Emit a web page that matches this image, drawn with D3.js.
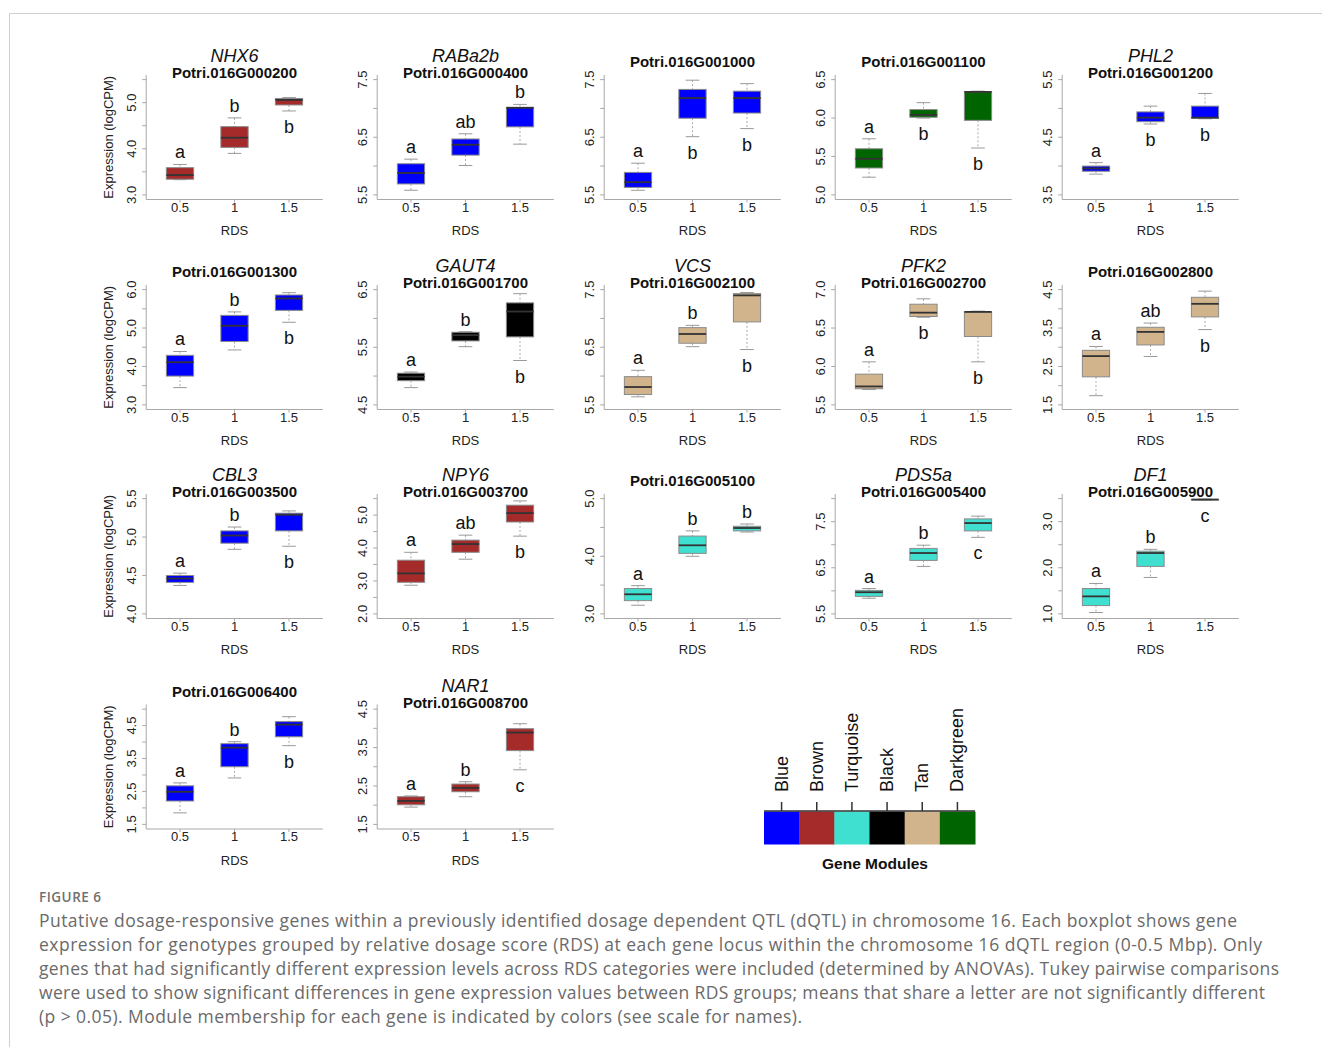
<!DOCTYPE html>
<html><head><meta charset="utf-8">
<script src="https://cdn.jsdelivr.net/npm/d3@7"></script>
<style>
html,body{margin:0;padding:0;background:#fff;}
svg{display:block;}
</style></head>
<body>
<svg id="chart" width="1322" height="1047"></svg>
<script>
// ---------------- DATA ----------------
const geneNames = ["NHX6","RABa2b","","","PHL2","","GAUT4","VCS","PFK2","","CBL3","NPY6","","PDS5a","DF1","","NAR1"];
const geneIds = ["Potri.016G000200","Potri.016G000400","Potri.016G001000","Potri.016G001100","Potri.016G001200",
  "Potri.016G001300","Potri.016G001700","Potri.016G002100","Potri.016G002700","Potri.016G002800",
  "Potri.016G003500","Potri.016G003700","Potri.016G005100","Potri.016G005400","Potri.016G005900",
  "Potri.016G006400","Potri.016G008700"];
const geneModule = ["Brown","Blue","Blue","Darkgreen","Blue","Blue","Black","Tan","Tan","Tan",
  "Blue","Brown","Turquoise","Turquoise","Turquoise","Blue","Brown"];
const yLimLow  = [3.0,5.5,5.5,5.0,3.5, 3.0,4.5,5.5,5.5,1.5, 4.0,2.0,3.0,5.5,1.0, 1.5,1.5];
const yLimHigh = [5.5,7.5,7.5,6.5,5.5, 6.0,6.5,7.5,7.0,4.5, 5.5,5.5,5.0,8.0,3.5, 5.0,4.5];
const rdsLabels = ["0.5","1","1.5"];
const lowerWhisker = [[3.33,3.90,4.82],[5.58,6.01,6.38],[5.58,6.51,6.65],[5.23,6.00,5.61],[3.86,4.73,4.82],
  [3.45,4.43,5.15],[4.80,5.51,5.27],[5.64,6.51,6.46],[5.70,6.64,6.06],[1.74,2.76,3.46],
  [4.37,4.84,4.88],[2.87,3.66,4.36],[3.15,4.00,4.42],[5.84,6.53,7.16],[1.03,1.79,3.47],
  [1.85,2.91,3.89],[1.95,2.22,2.92]];
const lowerQuartile = [[3.34,4.03,4.95],[5.69,6.19,6.68],[5.63,6.83,6.92],[5.35,6.01,5.97],[3.91,4.77,4.83],
  [3.75,4.65,5.46],[4.92,5.61,5.68],[5.68,6.57,6.94],[5.71,6.65,6.39],[2.23,3.06,3.79],
  [4.41,4.92,5.08],[2.96,3.87,4.79],[3.23,4.05,4.44],[5.88,6.66,7.30],[1.18,2.03,3.47],
  [2.21,3.25,4.16],[2.01,2.35,3.42]];
const medians = [[3.43,4.24,5.06],[5.88,6.37,7.01],[5.72,7.18,7.18],[5.47,6.04,6.34],[3.96,4.84,4.84],
  [4.11,5.06,5.77],[4.99,5.71,6.12],[5.81,6.73,7.40],[5.74,6.70,6.71],[2.77,3.40,4.13],
  [4.46,5.02,5.29],[3.23,4.12,5.06],[3.34,4.19,4.49],[5.97,6.82,7.47],[1.38,2.32,3.48],
  [2.49,3.83,4.53],[2.11,2.45,3.89]];
const upperQuartile = [[3.59,4.48,5.09],[6.04,6.47,7.02],[5.89,7.33,7.30],[5.60,6.11,6.34],[4.00,4.94,5.04],
  [4.29,5.33,5.86],[5.05,5.76,6.27],[5.99,6.84,7.43],[5.90,6.81,6.71],[2.92,3.52,4.30],
  [4.50,5.08,5.31],[3.63,4.24,5.30],[3.44,4.35,4.52],[6.01,6.92,7.56],[1.55,2.36,3.48],
  [2.67,3.95,4.62],[2.22,2.55,3.99]];
const upperWhisker = [[3.66,4.67,5.11],[6.12,6.56,7.07],[6.05,7.49,7.43],[5.73,6.20,6.35],[4.06,5.04,5.26],
  [4.39,5.42,5.92],[5.07,5.77,6.43],[6.10,6.88,7.45],[6.06,6.88,6.72],[3.02,3.63,4.46],
  [4.53,5.13,5.34],[3.87,4.39,5.43],[3.49,4.44,4.56],[6.05,6.99,7.62],[1.66,2.40,3.49],
  [2.76,4.01,4.77],[2.24,2.61,4.12]];
const groupLetters = [["a","b","b"],["a","ab","b"],["a","b","b"],["a","b","b"],["a","b","b"],
  ["a","b","b"],["a","b","b"],["a","b","b"],["a","b","b"],["a","ab","b"],
  ["a","b","b"],["a","ab","b"],["a","b","b"],["a","b","c"],["a","b","c"],
  ["a","b","b"],["a","b","c"]];
const letterSide = [["above","above","below"],["above","above","above"],["above","below","below"],["above","below","below"],["above","below","below"],
  ["above","above","below"],["above","above","below"],["above","above","below"],["above","below","below"],["above","above","below"],
  ["above","above","below"],["above","above","below"],["above","above","above"],["above","above","below"],["above","above","below"],
  ["above","above","below"],["above","above","below"]];
const moduleNames = ["Blue","Brown","Turquoise","Black","Tan","Darkgreen"];
const moduleColors = ["#0000ff","#a52a2a","#40e0d0","#000000","#d2b48c","#006400"];
const captionHeading = "FIGURE 6";
const captionLines = [
  "Putative dosage-responsive genes within a previously identified dosage dependent QTL (dQTL) in chromosome 16. Each boxplot shows gene",
  "expression for genotypes grouped by relative dosage score (RDS) at each gene locus within the chromosome 16 dQTL region (0-0.5 Mbp). Only",
  "genes that had significantly different expression levels across RDS categories were included (determined by ANOVAs). Tukey pairwise comparisons",
  "were used to show significant differences in gene expression values between RDS groups; means that share a letter are not significantly different",
  "(p > 0.05). Module membership for each gene is indicated by colors (see scale for names)."
];

// ---------------- LAYOUT ----------------
const svg = d3.select("#chart");
const FONT = "'Liberation Sans', Arial, sans-serif";
const colLeft = [146.2, 377.2, 604.2, 835.2, 1062.2];
const rowBottom = [199.5, 409.5, 618.5, 829];
const plotW = 176.6, plotH = 124.5;
const colorOf = d3.scaleOrdinal().domain(moduleNames).range(moduleColors);

// frame
svg.append("line").attr("x1",9.5).attr("x2",1322).attr("y1",13.5).attr("y2",13.5).attr("stroke","#cfcfcf");
svg.append("line").attr("x1",9.5).attr("x2",9.5).attr("y1",13.5).attr("y2",1047).attr("stroke","#cfcfcf");

geneIds.forEach((gid, i) => {
  const col = i % 5, row = Math.floor(i / 5);
  const L = colLeft[col], B = rowBottom[row], T = B - plotH;
  const g = svg.append("g");
  const lo = yLimLow[i], hi = yLimHigh[i], ext = 0.04 * (hi - lo);
  const y = d3.scaleLinear().domain([lo - ext, hi + ext]).range([B, T]);
  const x = d3.scaleLinear().domain([0.38, 3.62]).range([L, L + plotW]);
  const color = colorOf(geneModule[i]);

  // L-shaped frame
  g.append("path").attr("d", `M${L},${T}V${B}H${L+plotW}`).attr("fill","none").attr("stroke","#a8a8a8").attr("stroke-width",1);

  // y axis ticks + labels
  const ticks = d3.range(Math.round((hi - lo) / 0.5) + 1).map(k => +(lo + k * 0.5).toFixed(2));
  const spacing = Math.abs(y(ticks[0]) - y(ticks[1]));
  const labelEvery = spacing < 32 ? 2 : 1;
  ticks.forEach((t, k) => {
    g.append("line").attr("x1", L - 4).attr("x2", L).attr("y1", y(t)).attr("y2", y(t)).attr("stroke","#a8a8a8");
    if (k % labelEvery === 0) {
      g.append("text").attr("transform", `translate(${L - 10},${y(t)}) rotate(-90)`)
        .attr("text-anchor","middle").attr("font-family",FONT).attr("font-size",13).attr("fill","#222")
        .text(d3.format(".1f")(t));
    }
  });

  // x axis ticks + labels
  rdsLabels.forEach((lab, k) => {
    const xp = x(k + 1);
    g.append("line").attr("x1", xp).attr("x2", xp).attr("y1", B).attr("y2", B + 3).attr("stroke","#a8a8a8");
    g.append("text").attr("x", xp).attr("y", B + 12).attr("text-anchor","middle")
      .attr("font-family",FONT).attr("font-size",13).attr("fill","#222").text(lab);
  });
  g.append("text").attr("x", L + plotW / 2).attr("y", B + 35.5).attr("text-anchor","middle")
    .attr("font-family",FONT).attr("font-size",13).attr("fill","#222").text("RDS");

  if (col === 0) {
    g.append("text").attr("transform", `translate(${L - 33},${(T + B) / 2}) rotate(-90)`)
      .attr("text-anchor","middle").attr("font-family",FONT).attr("font-size",13).attr("fill","#222")
      .text("Expression (logCPM)");
  }

  // titles
  const cx = L + plotW / 2;
  if (geneNames[i]) {
    g.append("text").attr("x", cx).attr("y", T - 13).attr("text-anchor","middle")
      .attr("font-family",FONT).attr("font-size",18).attr("font-style","italic").attr("fill","#111").text(geneNames[i]);
    g.append("text").attr("x", cx).attr("y", T + 3).attr("text-anchor","middle")
      .attr("font-family",FONT).attr("font-size",15).attr("font-weight","bold").attr("fill","#111").text(gid);
  } else {
    g.append("text").attr("x", cx).attr("y", T - 8).attr("text-anchor","middle")
      .attr("font-family",FONT).attr("font-size",15).attr("font-weight","bold").attr("fill","#111").text(gid);
  }

  // boxes
  const bw = 0.5 * (x(2) - x(1));
  for (let k = 0; k < 3; k++) {
    const xp = x(k + 1);
    const lw = lowerWhisker[i][k], q1 = lowerQuartile[i][k], md = medians[i][k], q3 = upperQuartile[i][k], uw = upperWhisker[i][k];
    g.append("line").attr("x1",xp).attr("x2",xp).attr("y1",y(uw)).attr("y2",y(q3)).attr("stroke","#aaa").attr("stroke-dasharray","2,2");
    g.append("line").attr("x1",xp).attr("x2",xp).attr("y1",y(q1)).attr("y2",y(lw)).attr("stroke","#aaa").attr("stroke-dasharray","2,2");
    g.append("line").attr("x1",xp - bw/4).attr("x2",xp + bw/4).attr("y1",y(uw)).attr("y2",y(uw)).attr("stroke","#999");
    g.append("line").attr("x1",xp - bw/4).attr("x2",xp + bw/4).attr("y1",y(lw)).attr("y2",y(lw)).attr("stroke","#999");
    g.append("rect").attr("x", xp - bw/2).attr("y", y(q3)).attr("width", bw).attr("height", Math.max(0.5, y(q1) - y(q3)))
      .attr("fill", color).attr("stroke","#8a8a8a").attr("stroke-width",1);
    g.append("line").attr("x1",xp - bw/2).attr("x2",xp + bw/2).attr("y1",y(md)).attr("y2",y(md))
      .attr("stroke","#333").attr("stroke-width",1.8);
    const above = letterSide[i][k] === "above";
    g.append("text").attr("x", xp).attr("y", above ? y(uw) - 6 : y(lw) + 22).attr("text-anchor","middle")
      .attr("font-family",FONT).attr("font-size",18).attr("fill","#111").text(groupLetters[i][k]);
  }
});

// ---------------- LEGEND ----------------
const lg = svg.append("g");
const legX = d3.scaleBand().domain(moduleNames).range([764, 975]).padding(0);
lg.selectAll("rect.sw").data(moduleNames).join("rect").attr("class","sw")
  .attr("x", d => legX(d)).attr("y", 811.5).attr("width", legX.bandwidth() + 0.5).attr("height", 33)
  .attr("fill", d => colorOf(d));
lg.append("line").attr("x1",764).attr("x2",975).attr("y1",811).attr("y2",811).attr("stroke","#333").attr("stroke-width",1.5);
moduleNames.forEach(d => {
  const cx = legX(d) + legX.bandwidth() / 2;
  lg.append("line").attr("x1",cx).attr("x2",cx).attr("y1",802).attr("y2",811).attr("stroke","#333").attr("stroke-width",1.5);
  lg.append("text").attr("transform", `translate(${cx + 6},${792}) rotate(-90)`)
    .attr("font-family",FONT).attr("font-size",18).attr("fill","#111").text(d);
});
lg.append("text").attr("x", 875).attr("y", 869).attr("text-anchor","middle")
  .attr("font-family",FONT).attr("font-size",15.5).attr("font-weight","bold").attr("fill","#111").text("Gene Modules");

// ---------------- CAPTION ----------------
const CAPF = "'Open Sans', 'Noto Sans', sans-serif";
svg.append("text").attr("x", 39).attr("y", 902).attr("font-family",CAPF).attr("font-size",13.5).attr("font-weight",600)
  .attr("letter-spacing",0.5).attr("fill","#707070").text(captionHeading);
const lineEnds = [1237, 1262, 1279, 1265, 802];
captionLines.forEach((t, k) => {
  svg.append("text").attr("x", 39).attr("y", 927 + k * 24).attr("font-family",CAPF).attr("font-size",17.5)
    .attr("fill","#6a6a6a").attr("textLength", lineEnds[k] - 39).attr("lengthAdjust","spacing").text(t);
});
</script>
</body></html>
